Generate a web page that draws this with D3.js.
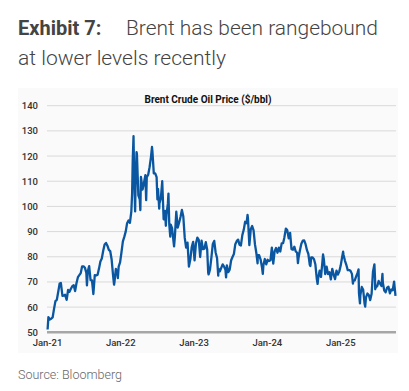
<!DOCTYPE html>
<html><head><meta charset="utf-8">
<script src="https://cdn.jsdelivr.net/npm/d3@7"></script>
<style>
html,body{margin:0;padding:0;background:#fff;}
svg{display:block;}
</style></head>
<body>
<svg id="c" width="409" height="391"></svg>
<script>
const titleBold = "Exhibit 7:";
const titleRest = "Brent has been rangebound";
const titleLine2 = "at lower levels recently";
const chartTitle = "Brent Crude Oil Price ($/bbl)";
const sourceText = "Source: Bloomberg";
const yTicks = [50,60,70,80,90,100,110,120,130,140];
const xTickDates = ["2021-01-01","2022-01-01","2023-01-01","2024-01-01","2025-01-01"];
const xTickLabels = ["Jan-21","Jan-22","Jan-23","Jan-24","Jan-25"];

const dates = [
"2021-01-04","2021-01-08","2021-01-15","2021-01-22","2021-01-29","2021-02-05","2021-02-12","2021-02-19","2021-02-26","2021-03-05","2021-03-11","2021-03-19","2021-03-26","2021-04-01","2021-04-09","2021-04-16","2021-04-23","2021-04-30","2021-05-07","2021-05-14","2021-05-21","2021-05-28","2021-06-04","2021-06-11","2021-06-18","2021-06-25","2021-07-02","2021-07-09","2021-07-16","2021-07-19","2021-07-23","2021-07-30","2021-08-06","2021-08-13","2021-08-20","2021-08-27","2021-09-03","2021-09-10","2021-09-17","2021-09-24","2021-10-01","2021-10-08","2021-10-15","2021-10-22","2021-10-29","2021-11-05","2021-11-12","2021-11-19","2021-11-26","2021-12-01","2021-12-03","2021-12-10","2021-12-17","2021-12-20","2021-12-24","2021-12-31",
"2022-01-07","2022-01-14","2022-01-21","2022-01-28","2022-02-04","2022-02-11","2022-02-18","2022-02-25","2022-03-01","2022-03-04","2022-03-08","2022-03-11","2022-03-16","2022-03-18","2022-03-23","2022-03-25","2022-04-01","2022-04-08","2022-04-11","2022-04-14","2022-04-22","2022-04-29","2022-05-06","2022-05-10","2022-05-13","2022-05-20","2022-05-27","2022-06-03","2022-06-08","2022-06-10","2022-06-17","2022-06-24","2022-07-01","2022-07-05","2022-07-08","2022-07-14","2022-07-15","2022-07-22","2022-07-29","2022-08-05","2022-08-12","2022-08-16","2022-08-19","2022-08-26","2022-08-29","2022-09-02","2022-09-07","2022-09-09","2022-09-16","2022-09-23","2022-09-26","2022-09-30","2022-10-07","2022-10-14","2022-10-21","2022-10-28","2022-11-04","2022-11-11","2022-11-18","2022-11-25","2022-12-02","2022-12-09","2022-12-16","2022-12-23","2022-12-30",
"2023-01-06","2023-01-13","2023-01-20","2023-01-27","2023-02-03","2023-02-10","2023-02-17","2023-02-24","2023-03-03","2023-03-10","2023-03-15","2023-03-17","2023-03-20","2023-03-24","2023-03-31","2023-04-07","2023-04-14","2023-04-21","2023-04-28","2023-05-04","2023-05-05","2023-05-12","2023-05-19","2023-05-26","2023-06-02","2023-06-09","2023-06-12","2023-06-16","2023-06-23","2023-06-30","2023-07-07","2023-07-14","2023-07-21","2023-07-28","2023-08-04","2023-08-11","2023-08-18","2023-08-25","2023-09-01","2023-09-08","2023-09-15","2023-09-22","2023-09-27","2023-09-29","2023-10-06","2023-10-13","2023-10-20","2023-10-27","2023-11-03","2023-11-10","2023-11-16","2023-11-17","2023-11-24","2023-12-01","2023-12-08","2023-12-12","2023-12-15","2023-12-22","2023-12-29",
"2024-01-05","2024-01-12","2024-01-19","2024-01-26","2024-02-02","2024-02-09","2024-02-16","2024-02-23","2024-03-01","2024-03-08","2024-03-15","2024-03-22","2024-03-28","2024-04-05","2024-04-12","2024-04-19","2024-04-26","2024-05-03","2024-05-10","2024-05-17","2024-05-24","2024-05-31","2024-06-04","2024-06-07","2024-06-14","2024-06-21","2024-06-28","2024-07-05","2024-07-12","2024-07-19","2024-07-26","2024-08-02","2024-08-05","2024-08-09","2024-08-16","2024-08-23","2024-08-30","2024-09-06","2024-09-10","2024-09-13","2024-09-20","2024-09-27","2024-10-04","2024-10-07","2024-10-11","2024-10-18","2024-10-25","2024-11-01","2024-11-08","2024-11-15","2024-11-22","2024-11-29","2024-12-06","2024-12-13","2024-12-20","2024-12-27",
"2025-01-03","2025-01-10","2025-01-15","2025-01-17","2025-01-24","2025-01-31","2025-02-07","2025-02-14","2025-02-21","2025-02-28","2025-03-05","2025-03-07","2025-03-14","2025-03-21","2025-03-28","2025-04-02","2025-04-04","2025-04-09","2025-04-11","2025-04-18","2025-04-25","2025-05-02","2025-05-05","2025-05-09","2025-05-16","2025-05-23","2025-05-30","2025-06-06","2025-06-13","2025-06-20","2025-06-23","2025-06-24","2025-06-27","2025-07-04","2025-07-11","2025-07-18","2025-07-25","2025-07-30","2025-08-01","2025-08-08","2025-08-15","2025-08-22","2025-08-29","2025-09-05","2025-09-12","2025-09-19","2025-09-26","2025-10-03"
];
const prices = [
51.1,56.0,55.1,55.4,55.9,59.3,62.4,62.9,66.1,69.4,69.6,64.5,64.6,64.9,62.9,66.8,66.1,67.3,68.3,68.7,66.4,69.6,71.9,72.7,73.5,76.2,76.2,75.6,73.6,68.6,74.1,76.3,70.7,70.6,65.2,72.7,72.6,72.9,75.3,78.1,79.3,82.4,84.9,85.5,84.4,82.7,82.2,78.9,72.7,68.9,69.9,75.2,73.5,71.5,76.1,77.8,
81.8,86.1,87.9,90.0,93.3,94.4,93.5,97.9,105.0,118.1,127.9,112.7,98.0,107.9,121.6,120.7,104.4,102.8,98.5,111.7,106.7,109.3,112.4,102.5,111.6,112.6,115.6,119.7,123.6,122.0,113.1,113.1,111.6,102.8,107.0,99.1,101.2,103.2,110.0,94.9,98.2,92.3,96.7,101.0,105.1,93.0,88.0,92.8,91.4,86.2,84.1,88.0,97.9,91.6,93.5,95.8,98.6,96.0,87.6,83.6,85.6,76.1,79.0,83.9,85.9,
78.6,85.3,87.6,86.7,79.9,86.4,83.0,83.2,85.8,82.8,73.7,73.0,73.8,75.0,79.8,85.1,86.3,81.7,79.5,72.5,75.3,74.2,75.6,77.0,76.1,74.8,71.8,76.6,73.9,74.9,78.5,79.9,81.1,85.0,86.2,86.8,84.8,84.5,88.6,90.7,93.9,93.3,96.6,95.3,84.6,90.9,92.2,90.5,84.9,81.4,77.4,80.6,80.6,78.9,75.8,73.2,76.6,79.1,77.0,
78.8,78.3,78.6,83.6,77.3,82.2,83.5,81.6,83.6,82.1,85.3,85.4,87.5,91.2,90.5,87.3,89.5,83.0,82.8,84.0,82.1,81.6,77.5,79.6,82.6,85.2,86.4,86.5,85.0,82.6,81.1,76.8,76.3,79.7,79.7,79.0,76.9,71.1,69.2,71.6,74.5,72.0,78.1,80.9,79.0,73.1,76.1,73.1,73.9,71.0,75.2,72.9,71.1,74.5,72.9,74.2,
76.5,79.8,82.0,80.8,78.5,76.8,74.7,74.7,74.4,73.2,69.3,70.4,70.6,72.2,73.6,75.0,65.6,61.5,64.8,68.0,66.9,61.3,60.2,63.9,65.4,64.8,62.8,65.3,74.2,77.0,71.5,67.1,67.8,68.3,70.4,69.3,68.4,73.2,69.7,66.6,65.9,67.7,68.1,65.5,67.0,66.7,70.1,64.5
];

const parse = d3.timeParse("%Y-%m-%d");
const data = dates.map((d,i)=>({date:parse(d), value:prices[i]}));

const svg = d3.select("#c");
const font = "Roboto, 'Noto Sans', sans-serif";

// header
svg.append("text").attr("x",18).attr("y",35).attr("font-family",font).attr("font-size",20).attr("font-weight",700).attr("fill","#444").text(titleBold);
svg.append("text").attr("x",126).attr("y",35).attr("font-family",font).attr("font-size",20).attr("font-weight",300).attr("fill","#444")
  .attr("textLength",252).attr("lengthAdjust","spacingAndGlyphs").text(titleRest);
svg.append("text").attr("x",18).attr("y",65).attr("font-family",font).attr("font-size",20).attr("font-weight",300).attr("fill","#444")
  .attr("textLength",208).attr("lengthAdjust","spacingAndGlyphs").text(titleLine2);

// panel
svg.append("rect").attr("x",18).attr("y",88).attr("width",380).attr("height",265).attr("fill","#fafafa");

const x = d3.scaleTime().domain([parse("2021-01-01"), parse("2025-10-03")]).range([47, 395.5]);
const y = d3.scaleLinear().domain([50,140]).range([332.3,105.7]);

// grid
svg.append("g").selectAll("line").data(yTicks.filter(v=>v>50)).join("line")
  .attr("x1",47).attr("x2",396).attr("y1",d=>y(d)).attr("y2",d=>y(d))
  .attr("stroke","#d9d9d9").attr("stroke-width",1);

// y axis
const yAxis = svg.append("g").attr("transform","translate(38,0)")
  .call(d3.axisLeft(y).tickValues(yTicks).tickSize(0).tickPadding(0));
yAxis.select(".domain").remove();
yAxis.selectAll("text").attr("font-family",font).attr("font-size",9.5).attr("font-weight",500).attr("fill","#333");

// baseline
svg.append("line").attr("x1",47).attr("x2",396).attr("y1",y(50)).attr("y2",y(50)).attr("stroke","#a6a6a6").attr("stroke-width",2.5);

// x axis
const xAxis = svg.append("g").attr("transform","translate(0,339)")
  .call(d3.axisBottom(x).tickValues(xTickDates.map(parse)).tickFormat((d,i)=>xTickLabels[i]).tickSize(0).tickPadding(0));
xAxis.select(".domain").remove();
xAxis.selectAll("text").attr("font-family",font).attr("font-size",9.5).attr("font-weight",500).attr("fill","#333");

// line
svg.append("path").datum(data)
  .attr("d", d3.line().x(d=>x(d.date)).y(d=>y(d.value)))
  .attr("fill","none").attr("stroke","#0a56a0").attr("stroke-width",2.3).attr("stroke-linejoin","round");

// chart title
svg.append("text").attr("x",208).attr("y",103).attr("text-anchor","middle")
  .attr("font-family",font).attr("font-size",10).attr("font-weight",700).attr("fill","#111")
  .attr("textLength",127).attr("lengthAdjust","spacingAndGlyphs").text(chartTitle);

// source
svg.append("text").attr("x",18).attr("y",379).attr("font-family",font).attr("font-size",12.5).attr("font-weight",300).attr("fill","#666").text(sourceText);
</script>
</body></html>
